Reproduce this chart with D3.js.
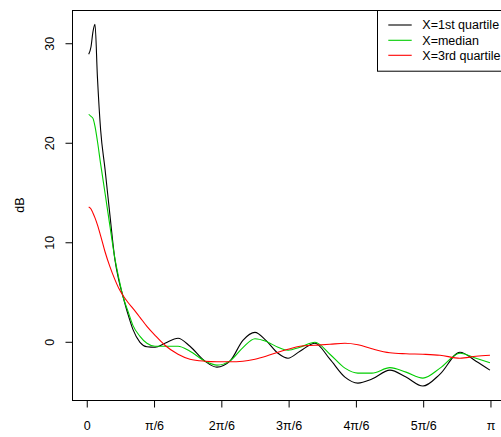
<!DOCTYPE html>
<html>
<head>
<meta charset="utf-8">
<script src="https://cdn.jsdelivr.net/npm/d3@7"></script>
<style>
html,body{margin:0;padding:0;background:#fff;overflow:hidden;}
svg{display:block;}
text{font-family:"Liberation Sans",Arial,Helvetica,sans-serif;}
</style>
</head>
<body>
<svg id="chart" width="501" height="437"></svg>
<script>
// Frequency (radians) grid
const freq = [0.019,0.037,0.052,0.068,0.087,0.112,0.146,0.184,0.223,0.254,0.286,0.325,0.363,0.418,0.472,0.535,0.612,0.714,0.807,0.924,1.017,1.118,1.219,1.313,1.398,1.492,1.570,1.663,1.780,1.896,2.013,2.114,2.223,2.363,2.488,2.620,2.753,2.908,3.033,3.1416];
// Series values (dB)
const q1 = [28.85,29.6,31.1,31.85,26.5,21.2,17.3,12.7,8.2,6.1,4.5,2.7,1.2,-0.1,-0.55,-0.6,-0.2,0.3,-0.5,-2.0,-2.6,-2.0,0.1,0.9,0.1,-1.2,-1.7,-1.0,-0.2,-1.8,-3.6,-4.2,-3.8,-2.9,-3.6,-4.5,-3.3,-1.1,-2.0,-2.9];
const med = [22.8,22.6,22.4,21.6,20.1,17.8,14.9,11.6,8.3,6.3,4.5,3.0,1.6,0.5,-0.2,-0.5,-0.5,-0.5,-1.0,-2.0,-2.4,-1.97,-0.63,0.25,0.0,-0.6,-0.9,-0.6,-0.1,-1.3,-2.7,-3.2,-3.2,-2.65,-3.1,-3.7,-2.7,-1.2,-1.7,-2.15];
const q3 = [13.5,13.3,12.9,12.4,11.7,10.6,9.0,7.5,6.2,5.3,4.6,3.9,3.3,2.4,1.5,0.6,-0.4,-1.3,-1.8,-2.0,-2.05,-2.05,-2.0,-1.8,-1.5,-1.1,-0.8,-0.5,-0.4,-0.3,-0.2,-0.35,-0.75,-1.15,-1.25,-1.3,-1.4,-1.7,-1.5,-1.4];
const seriesNames = ["X=1st quartile","X=median","X=3rd quartile"];
const seriesColors = ["#000000","#00CD00","#FF0000"];
const xTickValues = [0, Math.PI/6, 2*Math.PI/6, 3*Math.PI/6, 4*Math.PI/6, 5*Math.PI/6, Math.PI];
const xTickLabels = ["0","\u03c0/6","2\u03c0/6","3\u03c0/6","4\u03c0/6","5\u03c0/6","\u03c0"];
const yTickValues = [0,10,20,30];
const yLabel = "dB";

const FS = 12.5;
const svg = d3.select("#chart");
const plotL = 72, plotT = 10, plotB = 400, plotR = 508;

const x = d3.scaleLinear().domain([-0.111, 3.282]).range([plotL, plotR]);
const y = d3.scaleLinear().domain([-5.9, 33.29]).range([plotB, plotT]);

// clip
svg.append("defs").append("clipPath").attr("id","clip")
  .append("rect").attr("x",plotL).attr("y",plotT).attr("width",plotR-plotL).attr("height",plotB-plotT);

const seriesData = [q1, med, q3];
const line = d3.line().x(d=>x(d[0])).y(d=>y(d[1])).curve(d3.curveMonotoneX);
const g = svg.append("g").attr("clip-path","url(#clip)");
seriesData.forEach((vals,i)=>{
  g.append("path")
    .datum(freq.map((f,j)=>[f, vals[j]]))
    .attr("d", line)
    .attr("fill","none")
    .attr("stroke", seriesColors[i])
    .attr("stroke-width",1.1);
});

// box
svg.append("rect").attr("x",plotL+0.5).attr("y",plotT+0.5)
  .attr("width",plotR-plotL).attr("height",plotB-plotT)
  .attr("fill","none").attr("stroke","#000").attr("stroke-width",1);

// x axis
const xAxis = d3.axisBottom(x).tickValues(xTickValues)
  .tickFormat((d,i)=>xTickLabels[i]).tickSizeOuter(0).tickSizeInner(7).tickPadding(14);
const gx = svg.append("g").attr("transform",`translate(0.5,${plotB+0.5})`).call(xAxis);
gx.select(".domain").attr("d", `M${x(0)},0H${x(Math.PI)}`).attr("stroke","#000");
gx.selectAll("text").attr("font-size",FS).attr("fill","#000");
gx.selectAll("line").attr("stroke","#000");

// y axis
const yAxis = d3.axisLeft(y).tickValues(yTickValues).tickSizeOuter(0).tickSizeInner(7).tickFormat(d3.format("d"));
const gy = svg.append("g").attr("transform",`translate(${plotL+0.5},0.5)`).call(yAxis);
gy.select(".domain").attr("d", `M0,${y(0)}V${y(30)}`).attr("stroke","#000");
gy.selectAll("line").attr("stroke","#000");
gy.selectAll("text").remove();
gy.selectAll(".tick").append("text")
  .attr("transform","translate(-23,0) rotate(-90)")
  .attr("text-anchor","middle").attr("dy","0.35em")
  .attr("font-size",FS).attr("fill","#000")
  .text(d=>d);

// y label
svg.append("text").attr("transform",`translate(20,${(plotT+plotB)/2}) rotate(-90)`)
  .attr("text-anchor","middle").attr("dy","0.35em").attr("font-size",FS).text(yLabel);

// legend
const legL = 377, legT = 10, legB = 70.7;
svg.append("rect").attr("x",legL+0.5).attr("y",legT+0.5).attr("width",200).attr("height",legB-legT)
  .attr("fill","#fff").attr("stroke","#000").attr("stroke-width",1);
const legRows = [25, 40.3, 55.3];
seriesNames.forEach((n,i)=>{
  svg.append("line").attr("x1",388.3).attr("x2",411.7).attr("y1",legRows[i]).attr("y2",legRows[i])
    .attr("stroke",seriesColors[i]).attr("stroke-width",1.1);
  svg.append("text").attr("x",422.3).attr("y",legRows[i]).attr("dy","0.35em")
    .attr("font-size",FS).attr("fill","#000").text(n);
});
</script>
</body>
</html>
